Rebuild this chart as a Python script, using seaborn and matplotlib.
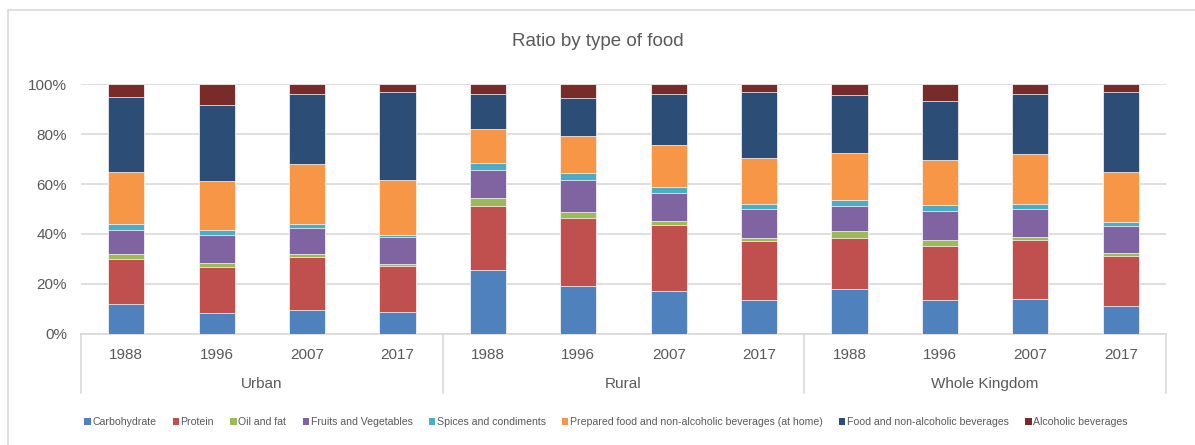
import numpy as np
import pandas as pd
import matplotlib
matplotlib.use("Agg")
import matplotlib.pyplot as plt
from matplotlib.lines import Line2D
from matplotlib.patches import Patch
import matplotlib.transforms as mtransforms
import seaborn as sns

# Share of food spending by type (%), per area and survey year
regions = ["Urban", "Rural", "Whole Kingdom"]
years = ["1988", "1996", "2007", "2017"]

food_types = [
    "Carbohydrate",
    "Protein",
    "Oil and fat",
    "Fruits and Vegetables",
    "Spices and condiments",
    "Prepared food and non-alcoholic beverages (at home)",
    "Food and non-alcoholic beverages",
    "Alcoholic beverages",
]

# One list per food type: Urban 1988..2017, Rural 1988..2017, Whole Kingdom 1988..2017
carbohydrate = [11.8, 8.4, 9.6, 8.6, 25.5, 19.0, 17.0, 13.5, 18.0, 13.4, 13.9, 11.0]
protein = [18.0, 18.2, 21.3, 18.7, 25.7, 27.3, 26.7, 23.8, 20.5, 21.9, 23.8, 20.3]
oil_and_fat = [2.2, 1.7, 0.9, 0.8, 3.1, 2.5, 1.5, 1.1, 2.7, 2.1, 1.2, 1.1]
fruits_veg = [9.6, 11.4, 10.4, 10.5, 11.5, 13.0, 11.4, 11.7, 10.0, 11.9, 11.2, 10.9]
spices = [2.4, 2.0, 1.7, 1.1, 2.8, 2.6, 2.2, 1.8, 2.4, 2.4, 1.8, 1.5]
prepared_home = [20.8, 19.7, 24.1, 22.1, 13.4, 14.7, 17.0, 18.7, 18.9, 17.8, 20.2, 20.2]
food_nonalc = [30.0, 30.2, 28.0, 35.1, 14.3, 15.6, 20.5, 26.2, 23.4, 23.8, 24.0, 31.8]
alcoholic = [5.2, 8.4, 4.0, 3.1, 3.7, 5.3, 3.7, 3.2, 4.1, 6.7, 3.9, 3.2]

series = [carbohydrate, protein, oil_and_fat, fruits_veg, spices,
          prepared_home, food_nonalc, alcoholic]

colors = ["#4F81BD", "#C0504D", "#9BBB59", "#8064A2", "#4BACC6",
          "#F79646", "#2C4D75", "#772C2A"]

categories = [f"{r} {y}" for r in regions for y in years]

df = pd.DataFrame({"category": categories})
for name, vals in zip(food_types, series):
    df[name] = vals
cum = df[food_types].cumsum(axis=1)

sns.set_theme(style="white")
plt.rcParams["font.family"] = ["Liberation Sans", "DejaVu Sans"]
text_color = "#595959"
grid_color = "#D9D9D9"

fig = plt.figure(figsize=(11.95, 4.45), dpi=100)
W, H = 1195, 445
ax = fig.add_axes([81 / W, 1 - 333.7 / H, (1166 - 81) / W, (333.7 - 84.3) / H])

# Stacked bars: draw cumulative totals from the top layer downward
for name, color in reversed(list(zip(food_types, colors))):
    sns.barplot(x=df["category"], y=cum[name], color=color, ax=ax,
                width=0.4, saturation=1, edgecolor="white", linewidth=0.5,
                order=categories, errorbar=None, zorder=3)

ax.set_ylim(0, 100)
ax.set_xlim(-0.5, len(categories) - 0.5)
ax.set_yticks(np.arange(0, 101, 20))
ax.set_yticklabels([f"{v}%" for v in range(0, 101, 20)], color=text_color, fontsize=11)
ax.set_xticks(range(len(categories)))
ax.set_xticklabels(years * len(regions), color=text_color, fontsize=11)
ax.tick_params(axis="both", length=0)
ax.tick_params(axis="x", pad=10)
ax.tick_params(axis="y", pad=10)
ax.set_xlabel("")
ax.set_ylabel("")

ax.yaxis.grid(True, color=grid_color, linewidth=1.2, zorder=0)
ax.set_axisbelow(True)
for side in ["left", "right", "top"]:
    ax.spines[side].set_visible(False)
ax.spines["bottom"].set_color(grid_color)
ax.spines["bottom"].set_linewidth(1.2)

# Group dividers and group labels under the year labels
trans = mtransforms.blended_transform_factory(ax.transData, ax.transAxes)
div_bottom = -(393 - 333.7) / (333.7 - 84.3)
for xpos in [-0.5, 3.5, 7.5, 11.5]:
    ax.add_line(Line2D([xpos, xpos], [0, div_bottom], transform=trans,
                       color=grid_color, linewidth=1.2, clip_on=False))
label_y = -(384 - 333.7) / (333.7 - 84.3)
for i, region in enumerate(regions):
    ax.text(i * 4 + 1.5, label_y, region, transform=trans, ha="center",
            va="center", fontsize=11, color=text_color)

fig.text(0.5, 1 - 42 / H, "Ratio by type of food", ha="center", va="center",
         fontsize=13.5, color=text_color)

handles = [Patch(facecolor=c, edgecolor="none") for c in colors]
leg = fig.legend(handles, food_types, loc="center", ncol=8,
                 bbox_to_anchor=(606 / W, 1 - 422 / H), frameon=False,
                 fontsize=7.6, handlelength=0.6, handleheight=0.6,
                 handletextpad=0.15, columnspacing=1.55, borderpad=0)
for t in leg.get_texts():
    t.set_color(text_color)

# Chart frame edges
fig.add_artist(Line2D([7.5 / W, 7.5 / W], [0, 1 - 9.5 / H], transform=fig.transFigure,
                      color=grid_color, linewidth=1.2))
fig.add_artist(Line2D([7.5 / W, 1], [1 - 9.5 / H, 1 - 9.5 / H], transform=fig.transFigure,
                      color=grid_color, linewidth=1.2))

fig.savefig("out.png", dpi=100, facecolor="white")
